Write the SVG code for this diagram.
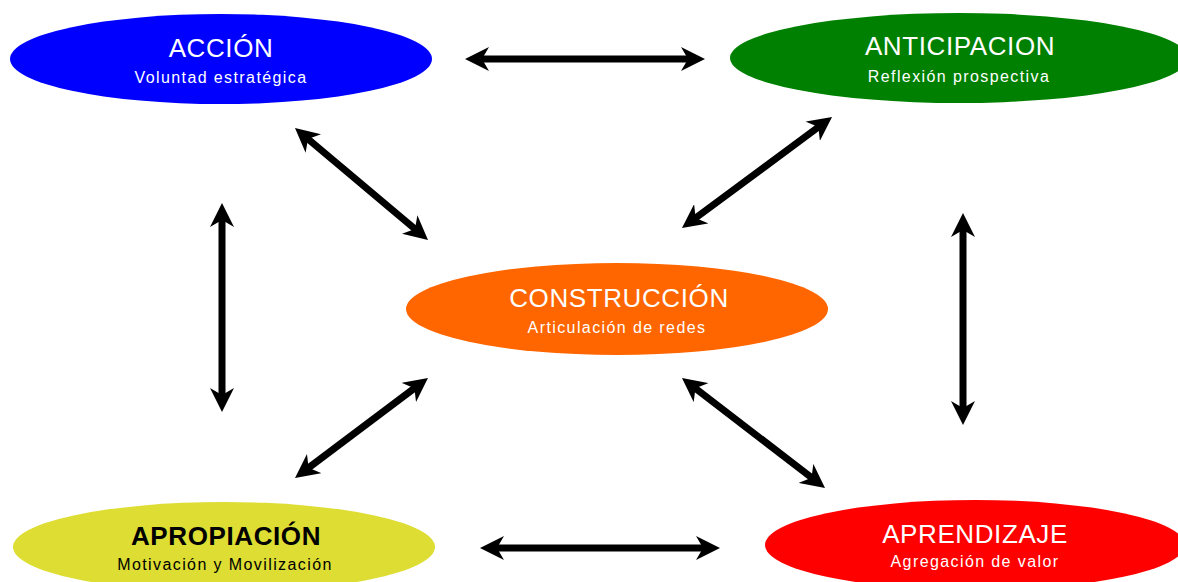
<svg xmlns="http://www.w3.org/2000/svg" width="1178" height="582" viewBox="0 0 1178 582">
<style>
.title{font-family:"Liberation Sans",Arial,sans-serif;font-size:26px;fill:#fff;text-anchor:middle;letter-spacing:0.6px}
.sub{font-family:"Liberation Sans",Arial,sans-serif;font-size:16px;fill:#fff;text-anchor:middle;letter-spacing:1.4px}
.dark{fill:#000}
.bold{font-weight:bold}
.conn line{stroke:#000;stroke-width:7;marker-start:url(#ah);marker-end:url(#ah)}
</style>
<defs>
<marker id="ah" viewBox="0 0 24 24" refX="13" refY="12" markerWidth="24" markerHeight="24" markerUnits="userSpaceOnUse" orient="auto-start-reverse">
<path d="M0,0 L24,12 L0,24 L7,12 Z" fill="#000"/>
</marker>
</defs>
<rect width="1178" height="582" fill="#fff"/>
<g id="accion">
<ellipse cx="221" cy="59" rx="211" ry="45" fill="#0000ff"/>
<text class="title" x="221" y="57">ACCIÓN</text>
<text class="sub" x="221" y="83">Voluntad estratégica</text>
</g>
<g id="anticipacion">
<ellipse cx="959" cy="58" rx="229" ry="45" fill="#008000"/>
<text class="title" x="960" y="55">ANTICIPACION</text>
<text class="sub" x="959" y="82">Reflexión prospectiva</text>
</g>
<g id="construccion">
<ellipse cx="617" cy="309" rx="211" ry="46" fill="#ff6600"/>
<text class="title" x="619" y="307">CONSTRUCCIÓN</text>
<text class="sub" x="617" y="333">Articulación de redes</text>
</g>
<g id="apropiacion">
<ellipse cx="224" cy="547" rx="211" ry="45" fill="#dddd33"/>
<text class="title dark bold" x="226" y="545">APROPIACIÓN</text>
<text class="sub dark" x="225" y="570">Motivación y Movilización</text>
</g>
<g id="aprendizaje">
<ellipse cx="975" cy="545" rx="210" ry="45" fill="#ff0000"/>
<text class="title" x="975" y="543">APRENDIZAJE</text>
<text class="sub" x="975" y="567">Agregación de valor</text>
</g>
<g id="connectors" class="conn">
<line x1="476" y1="59" x2="694" y2="59"/>
<line x1="303.4" y1="135.1" x2="419.6" y2="232.9"/>
<line x1="823.2" y1="123.5" x2="690.8" y2="221.5"/>
<line x1="222" y1="214" x2="222" y2="401"/>
<line x1="963" y1="224" x2="963" y2="414"/>
<line x1="419.2" y1="384.6" x2="303.8" y2="471.4"/>
<line x1="690.7" y1="384.7" x2="816.3" y2="481.3"/>
<line x1="491" y1="548" x2="709" y2="548"/>
</g>
</svg>
